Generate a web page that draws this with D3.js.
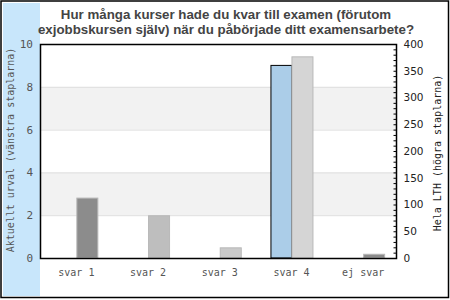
<!DOCTYPE html>
<html>
<head>
<meta charset="utf-8">
<script src="https://cdn.jsdelivr.net/npm/d3@7"></script>
<style>
  html, body { margin: 0; padding: 0; background: #fff; }
  svg { display: block; }
</style>
</head>
<body>
<svg id="chart" width="450" height="300"></svg>
<script>
// Answer categories
const categories = ["svar 1", "svar 2", "svar 3", "svar 4", "ej svar"];
// Current selection (left bars, left axis)
const selectionValues = [0, 0, 0, 9, 0];
// Whole LTH (right bars, right axis)
const lthValues = [112, 79, 19, 376, 7];
// Fill shade of each LTH bar
const lthFills = ["#8c8c8c", "#bebebe", "#cacaca", "#d5d5d5", "#8c8c8c"];
const leftTicks = [0, 2, 4, 6, 8, 10];
const rightTicks = [0, 50, 100, 150, 200, 250, 300, 350, 400];
const titleLines = [
  "Hur många kurser hade du kvar till examen (förutom",
  "exjobbskursen själv) när du påbörjade ditt examensarbete?"
];
const leftTitle = "Aktuellt urval (vänstra staplarna)";
const rightTitle = "Hela LTH (högra staplarna)";

const svg = d3.select("#chart");
const mono = "'DejaVu Sans Mono', monospace";

const plot = { left: 40, right: 396, top: 44, bottom: 258 };

// Background: sidebar and outer frame
svg.append("rect").attr("x", 3).attr("y", 3).attr("width", 37).attr("height", 293)
  .attr("fill", "#c8e6fb");

const x = d3.scaleBand().domain(categories).range([40.5, 399]).paddingInner(0).paddingOuter(0);
const yL = d3.scaleLinear().domain([0, 10]).range([plot.bottom, plot.top]);
const yR = d3.scaleLinear().domain([0, 400]).range([plot.bottom, plot.top]);

// Alternating bands between grid lines
const bands = [[2, 4], [6, 8]];
svg.append("g").selectAll("rect").data(bands).join("rect")
  .attr("x", plot.left).attr("width", plot.right - plot.left)
  .attr("y", d => yL(d[1])).attr("height", d => yL(d[0]) - yL(d[1]))
  .attr("fill", "#f2f2f2");
svg.append("g").selectAll("line").data([2, 4, 6, 8]).join("line")
  .attr("x1", plot.left).attr("x2", plot.right)
  .attr("y1", d => yL(d) + 0.5).attr("y2", d => yL(d) + 0.5)
  .attr("stroke", "#dedede").attr("stroke-width", 1);

const barW = 21;
// Left bars: current selection
svg.append("g").selectAll("rect").data(categories.map((c, i) => ({ c, v: selectionValues[i] })).filter(d => d.v > 0))
  .join("rect")
  .attr("x", d => x(d.c) + x.bandwidth() / 2 - barW + 0.5)
  .attr("width", barW)
  .attr("y", d => yL(d.v))
  .attr("height", d => yL(0) - yL(d.v))
  .attr("fill", "#abcde8").attr("stroke", "#000").attr("stroke-width", 1);

// Right bars: whole LTH
svg.append("g").selectAll("rect").data(categories.map((c, i) => ({ c, v: lthValues[i], f: lthFills[i] })))
  .join("rect")
  .attr("x", d => x(d.c) + x.bandwidth() / 2 + 0.5)
  .attr("width", barW)
  .attr("y", d => yR(d.v))
  .attr("height", d => yR(0) - yR(d.v))
  .attr("fill", d => d.f).attr("stroke", "#b8b8b8").attr("stroke-width", 1);

// Plot frame
svg.append("rect").attr("x", plot.left + 0.5).attr("y", plot.top + 0.5)
  .attr("width", plot.right - plot.left).attr("height", plot.bottom - plot.top)
  .attr("fill", "none").attr("stroke", "#000").attr("stroke-width", 1.5);

// Left axis labels
const gL = svg.append("g").attr("transform", `translate(${plot.left},0)`)
  .call(d3.axisLeft(yL).tickValues(leftTicks).tickSize(0).tickPadding(7).tickFormat(d3.format("d")));
gL.select(".domain").remove();
gL.selectAll("text").attr("font-family", mono).attr("font-size", 11).attr("fill", "#555");

// Right axis with minor ticks
const gR = svg.append("g").attr("transform", `translate(${plot.right + 0.5},0)`)
  .call(d3.axisRight(yR).tickValues(d3.range(0, 401, 10)).tickSize(-3).tickPadding(7)
    .tickFormat(d => rightTicks.includes(d) ? d3.format("d")(d) : ""));
gR.select(".domain").remove();
gR.selectAll("line").attr("stroke", "#000");
gR.selectAll("text").attr("font-family", "'DejaVu Sans', sans-serif").attr("font-size", 10.5).attr("fill", "#222").attr("text-anchor", "start");

// Category labels
const gX = svg.append("g").attr("transform", `translate(0,${plot.bottom})`)
  .call(d3.axisBottom(x).tickSize(0).tickPadding(11));
gX.select(".domain").remove();
gX.selectAll("text").attr("font-family", mono).attr("font-size", 10).attr("fill", "#555");

// Axis titles
svg.append("text").attr("transform", `translate(14,150) rotate(-90)`)
  .attr("text-anchor", "middle").attr("font-family", mono).attr("font-size", 10).attr("fill", "#555")
  .text(leftTitle);
svg.append("text").attr("transform", `translate(441,153) rotate(-90)`)
  .attr("text-anchor", "middle").attr("font-family", mono).attr("font-size", 10).attr("fill", "#222")
  .text(rightTitle);

// Title
svg.append("g").selectAll("text").data(titleLines).join("text")
  .attr("x", 226).attr("y", (d, i) => 18.5 + i * 15)
  .attr("text-anchor", "middle")
  .attr("font-family", "'Liberation Sans', Arial, sans-serif").attr("font-weight", "bold")
  .attr("font-size", 13.3).attr("fill", "#444")
  .text(d => d);

// Outer frame
svg.append("rect").attr("x", 1).attr("y", 1).attr("width", 447.5).attr("height", 296.5)
  .attr("fill", "none").attr("stroke", "#000").attr("stroke-width", 1.5);
</script>
</body>
</html>
